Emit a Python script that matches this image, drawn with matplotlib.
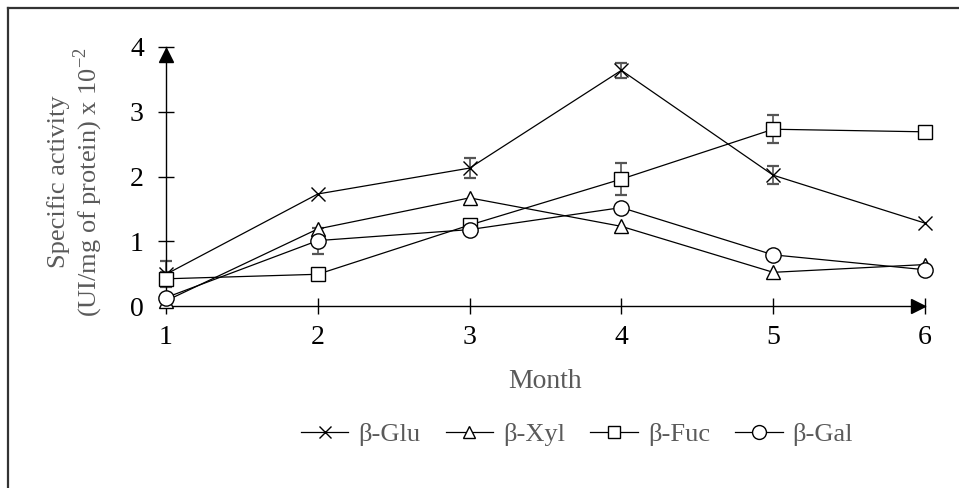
import numpy as np
import matplotlib.pyplot as plt
from matplotlib.lines import Line2D

plt.rcParams['font.family'] = ['Liberation Serif', 'DejaVu Serif']
plt.rcParams['mathtext.fontset'] = 'custom'
plt.rcParams['mathtext.rm'] = 'Liberation Serif'

months = [1, 2, 3, 4, 5, 6]

glu = [0.49, 1.73, 2.13, 3.64, 2.02, 1.28]
glu_err = [0.2, 0.0, 0.16, 0.12, 0.14, 0.0]
xyl = [0.08, 1.19, 1.67, 1.23, 0.52, 0.64]
xyl_err = [0.0, 0.0, 0.0, 0.0, 0.0, 0.0]
fuc = [0.42, 0.49, 1.25, 1.96, 2.73, 2.69]
fuc_err = [0.1, 0.0, 0.08, 0.25, 0.22, 0.0]
gal = [0.13, 1.01, 1.18, 1.52, 0.79, 0.56]
gal_err = [0.0, 0.2, 0.0, 0.0, 0.0, 0.0]

series = [
    ('β-Glu', glu, glu_err, 'x', 10),
    ('β-Xyl', xyl, xyl_err, '^', 10),
    ('β-Fuc', fuc, fuc_err, 's', 10),
    ('β-Gal', gal, gal_err, 'o', 11),
]

grey_text = '#5a5a5a'
fs = 20

fig = plt.figure(figsize=(9.59, 4.88), dpi=100)
ax = fig.add_axes([166 / 959, 1 - 306 / 488, (925 - 166) / 959, (306 - 47) / 488])

handles = []
for name, vals, errs, mk, ms in series:
    errs = np.array(errs)
    mask = errs > 0
    x = np.array(months)[mask]
    y = np.array(vals)[mask]
    ax.errorbar(x, y, yerr=errs[mask], fmt='none', ecolor='#555555',
                elinewidth=1.2, capsize=4.5, capthick=1.6, zorder=2, clip_on=False)
    ax.plot(months, vals, color='black', lw=0.9, marker=mk, ms=ms,
            mfc='white', mec='black', mew=1.0, zorder=3, clip_on=False)
    handles.append(Line2D([], [], color='black', lw=0.9, marker=mk, ms=ms - 1,
                          mfc='white', mec='black', mew=1.0, label=name))

ax.set_xlim(1, 6)
ax.set_ylim(0, 4)
ax.set_xticks(months)
ax.set_yticks([0, 1, 2, 3, 4])
for s in ['top', 'right']:
    ax.spines[s].set_visible(False)
ax.spines['left'].set_linewidth(1.0)
ax.spines['bottom'].set_linewidth(1.0)
ax.tick_params(axis='both', direction='inout', length=12, width=1.0,
               labelsize=fs, colors='black')
ax.tick_params(axis='x', pad=8)
ax.tick_params(axis='y', pad=10)
ax.yaxis.get_major_ticks()[0].tick1line.set_visible(False)

# arrow heads at the ends of the axes
ax.plot([1], [3.88], marker='^', ms=10, color='black', clip_on=False, zorder=4)
ax.plot([5.955], [0], marker='>', ms=10, color='black', clip_on=False, zorder=4)

fig.text(76 / 959, 1 - 182 / 488,
         'Specific activity\n(UI/mg of protein) x 10$^{\\mathrm{-2}}$',
         rotation=90, ha='center', va='center', multialignment='center',
         fontsize=19, color=grey_text, linespacing=1.05)

fig.text(545 / 959, 1 - 382 / 488, 'Month', ha='center', va='center',
         fontsize=fs, color=grey_text)

leg = fig.legend(handles=handles, loc='center', bbox_to_anchor=(577 / 959, 1 - 434 / 488),
                 ncol=4, frameon=False, fontsize=19, handlelength=1.8,
                 handletextpad=0.38, columnspacing=0.95)
for t in leg.get_texts():
    t.set_color(grey_text)

# partial frame around the figure
fig.add_artist(Line2D([7.5 / 959, 7.5 / 959], [0, 1 - 7.5 / 488], color='#333333', lw=1.6))
fig.add_artist(Line2D([7.5 / 959, 1], [1 - 7.5 / 488, 1 - 7.5 / 488], color='#333333', lw=1.6))

fig.savefig('out.png', dpi=100)
